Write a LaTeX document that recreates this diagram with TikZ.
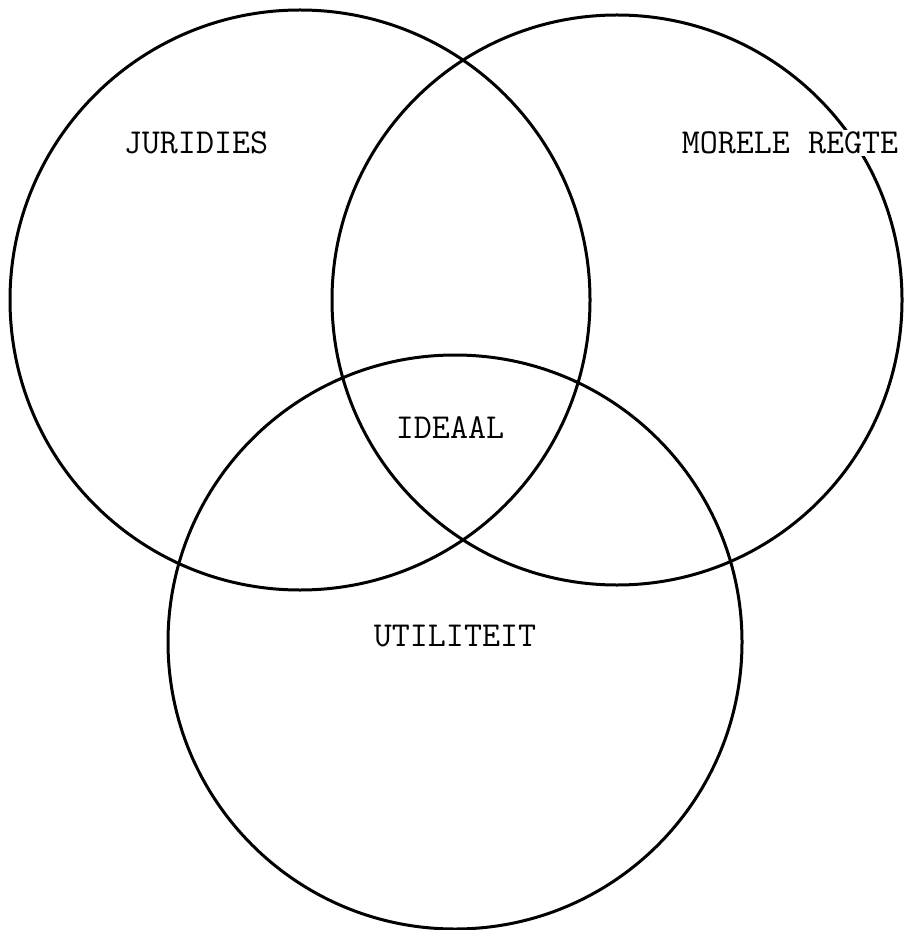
\documentclass[tikz,border=0pt]{standalone}
\begin{document}
\begin{tikzpicture}[
  x=0.5pt, y=-0.5pt,
  ring/.style={draw=black, line width=1.5pt},
  tag/.style={font=\ttfamily\fontsize{17.5}{20}\selectfont, text=black, inner sep=1pt}
]
\useasboundingbox (0,0) rectangle (910,930);

% the three sets
\coordinate (jur) at (300,300);
\coordinate (mor) at (617,300);
\coordinate (uti) at (455,642);
\draw[ring] (jur) circle[radius=145pt];
\draw[ring] (mor) circle[radius=142.5pt];
\draw[ring] (uti) circle[radius=143.5pt];

% labels
\node[tag] (juridies) at (196,143) {JURIDIES};
\node[tag, fill=white] (morele) at (790,143) {MORELE REGTE};
\node[tag] (ideaal) at (450,428) {IDEAAL};
\node[tag] (utiliteit) at (455,636) {UTILITEIT};
\end{tikzpicture}
\end{document}
